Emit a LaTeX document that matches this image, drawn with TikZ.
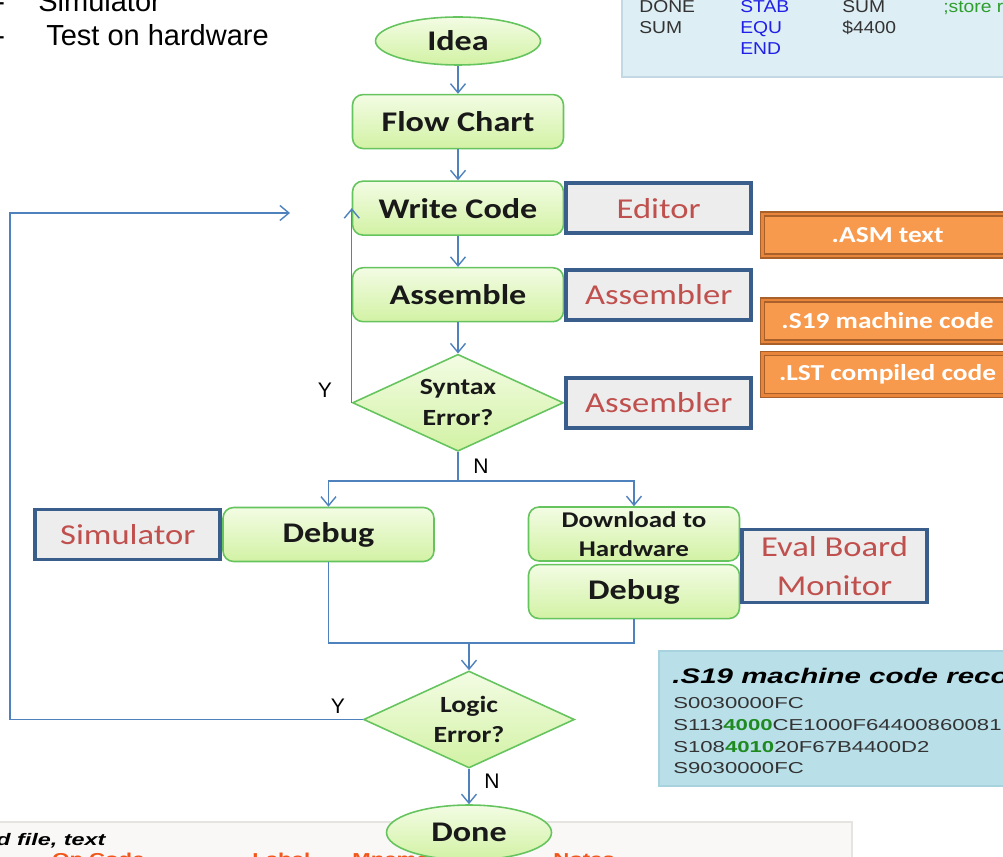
\documentclass[tikz,border=0pt]{standalone}
\usepackage{fontspec}
\setmainfont{Carlito}[FakeStretch=1.2]
\newfontfamily\arialfont{Liberation Sans}
\newfontfamily\codefont{Liberation Sans}[FakeStretch=1.12]
\newfontfamily\recfont{Liberation Sans}[FakeStretch=1.4]
\usetikzlibrary{arrows.meta,positioning,shapes.geometric}
\definecolor{FlowLine}{HTML}{4F81BD}
\definecolor{StepEdge}{HTML}{66C45E}
\definecolor{StepTop}{HTML}{F3FCE4}
\definecolor{StepBot}{HTML}{D2F2A4}
\definecolor{ToolEdge}{HTML}{3A5E8C}
\definecolor{ToolFill}{HTML}{EDEDED}
\definecolor{ToolText}{HTML}{C0504D}
\definecolor{FileFill}{HTML}{F89A4E}
\definecolor{FileBand}{HTML}{E8853A}
\definecolor{FileEdge}{HTML}{A8612A}
\definecolor{CodePanel}{HTML}{DDEEF4}
\definecolor{CodeEdge}{HTML}{C2D9E3}
\definecolor{RecPanel}{HTML}{B9DFE9}
\definecolor{RecEdge}{HTML}{A7D2DE}
\definecolor{ListPanel}{HTML}{F9F8F6}
\definecolor{ListEdge}{HTML}{E6E4E0}
\definecolor{OpBlue}{HTML}{2020E8}
\definecolor{NoteGreen}{HTML}{2E9E2E}
\definecolor{AddrGreen}{HTML}{1F8A1F}
\definecolor{HeadOrange}{HTML}{F2561A}
\tikzset{
  flow/box/.style={draw=StepEdge, line width=0.9pt, rounded corners=6pt, top color=StepTop, bottom color=StepBot, minimum width=4.22cm, minimum height=1.08cm, inner sep=1pt, align=center, text=black!90, font=\bfseries\fontsize{16.2}{19}\selectfont},
  flow/term/.style={flow/box, ellipse, sharp corners, minimum width=3.3cm, minimum height=0.96cm},
  flow/test/.style={flow/box, diamond, sharp corners, aspect=2.2, minimum width=4.22cm, minimum height=1.94cm, inner sep=0pt, font=\bfseries\fontsize{13.2}{17.5}\selectfont},
  flow/tool/.style={draw=ToolEdge, line width=2.2pt, fill=ToolFill, text=ToolText, minimum width=3.7cm, minimum height=1.0cm, inner sep=1pt, align=center, font=\fontsize{16.4}{22}\selectfont},
  flow/file/.style={draw=FileEdge, double=FileBand, double distance=1.6pt, line width=0.7pt, fill=FileFill, text=white, minimum width=5.0cm, minimum height=0.84cm, font=\bfseries\fontsize{13}{15}\selectfont},
  flow/arr/.style={draw=FlowLine, line width=0.8pt, -{Straight Barb[length=1.8mm,width=3mm]}},
  flow/link/.style={draw=FlowLine, line width=0.8pt},
  flow/yn/.style={inner sep=0pt, font=\arialfont\fontsize{12}{14}\selectfont},
  code/panel/.style={fill=CodePanel, draw=CodeEdge, line width=0.6pt},
  code/txt/.style={anchor=base west, inner sep=0pt, text=black!80, font=\codefont\fontsize{9.8}{11}\selectfont},
  rec/panel/.style={fill=RecPanel, draw=RecEdge, line width=0.6pt},
  rec/txt/.style={anchor=base west, inner sep=0pt, text=black!80, font=\recfont\fontsize{9}{11}\selectfont},
  lst/panel/.style={fill=ListPanel, draw=ListEdge, line width=0.6pt},
  lst/head/.style={anchor=base west, inner sep=0pt, text=HeadOrange, font=\recfont\bfseries\fontsize{9}{11}\selectfont},
  note/txt/.style={anchor=base west, inner sep=0pt, font=\arialfont\fontsize{16.5}{20}\selectfont}
}
\begin{document}
\begin{tikzpicture}[x=0.02cm, y=-0.02cm, node distance=6.2mm]
\clip (0,0) rectangle (1003,857);
\node[note/txt] (dashsim) at (-5,12) {-};
\node[note/txt] (simline) at (38,12) {Simulator};
\node[note/txt] (dashhw) at (-5,46) {-};
\node[note/txt] (hwline) at (46,46) {Test on hardware};

\draw[code/panel] (622,-20) rectangle (1020,77);
\node[code/txt] (lbldone) at (639,13) {DONE};
\node[code/txt, text=OpBlue] (opstab) at (740,13) {STAB};
\node[code/txt] (argsum) at (842,13) {SUM};
\node[code/txt, text=NoteGreen] (cmtstore) at (943,13) {;store r};
\node[code/txt] (lblsum) at (639,34) {SUM};
\node[code/txt, text=OpBlue] (opequ) at (740,34) {EQU};
\node[code/txt] (argaddr) at (842,34) {\$4400};
\node[code/txt, text=OpBlue] (opend) at (740,55) {END};

\draw[rec/panel] (659,651) rectangle (1020,786);
\node[rec/txt, text=black, font=\recfont\bfseries\itshape\fontsize{12}{14}\selectfont] (rectitle) at (672,683) {.S19 machine code reco};
\node[rec/txt] (recone) at (673,708) {S0030000FC};
\node[rec/txt] (rectwo) at (673,730) {S113{\bfseries\color{AddrGreen}4000}CE1000F64400860081};
\node[rec/txt] (recthree) at (673,752) {S108{\bfseries\color{AddrGreen}4010}20F67B4400D2};
\node[rec/txt] (recfour) at (673,773) {S9030000FC};

\draw[lst/panel] (-5,822) rectangle (852,880);
\node[lst/head, text=black, font=\recfont\bfseries\itshape\fontsize{9.5}{11}\selectfont] (lsttitle) at (-4,845) {d file, text};
\node[lst/head] (colop) at (52,864) {Op Code};
\node[lst/head] (collabel) at (252,864) {Label};
\node[lst/head] (colmnem) at (352,864) {Mnemonic};
\node[lst/head] (colnotes) at (553,864) {Notes};

\node[flow/term] (idea) at (458,41) {Idea};
\node[flow/box, below=5.6mm of idea] (chart) {Flow Chart};
\node[flow/box, below=of chart] (write) {Write Code};
\node[flow/box, below=of write] (asm) {Assemble};
\node[flow/test, below=of asm] (syntax) {Syntax\\Error?};
\node[flow/tool, right=0pt of write] (editor) {Editor};
\node[flow/tool, right=0pt of asm] (asmtool) {Assembler};
\node[flow/tool, right=0pt of syntax] (chktool) {Assembler};
\node[flow/file, anchor=west] (asmfile) at (762,235) {.ASM text};
\node[flow/file, anchor=west] (s19file) at (762,321) {.S19 machine code};
\node[flow/file, anchor=west] (lstfile) at (762,374.5) {.LST compiled code};
\node[flow/box] (simdebug) at (328.5,534.5) {Debug};
\node[flow/tool, left=0pt of simdebug] (simtool) {Simulator};
\node[flow/box, inner sep=0pt, font=\bfseries\fontsize{12.8}{16.5}\selectfont] (download) at (634,534) {Download to\\Hardware};
\node[flow/box, below=0.04cm of download] (hwdebug) {Debug};
\node[flow/tool, minimum height=1.46cm] (monitor) at (834.5,566) {Eval Board\\Monitor};
\node[flow/test] (logic) at (469,719.5) {Logic\\Error?};
\node[flow/term, minimum height=1.1cm] (done) at (469,832.5) {Done};

\draw[flow/arr] (idea) -- (chart);
\draw[flow/arr] (chart) -- (write);
\draw[flow/arr] (write) -- (asm);
\draw[flow/arr] (asm) -- (syntax);
\draw[flow/arr] (syntax.west) -- (syntax.west |- write.west);
\node[flow/yn] (synyes) at (325,390) {Y};
\coordinate (split) at (458,481);
\draw[flow/link] (syntax.south) -- (split);
\draw[flow/arr] (split) -| (simdebug.north);
\draw[flow/arr] (split) -| (download.north);
\node[flow/yn] (synno) at (481,466) {N};
\coordinate (join) at (469,643);
\draw[flow/link] (simdebug.south) |- (join);
\draw[flow/link] (hwdebug.south) |- (join);
\draw[flow/arr] (join) -- (logic.north);
\coordinate (loopcorner) at (10,213);
\coordinate (loopend) at (290,213);
\draw[flow/arr] (logic.west) -| (loopcorner) -- (loopend);
\node[flow/yn] (logyes) at (338,706) {Y};
\draw[flow/arr] (logic.south) -- (done.north);
\node[flow/yn] (logno) at (492,781) {N};
\end{tikzpicture}
\end{document}
